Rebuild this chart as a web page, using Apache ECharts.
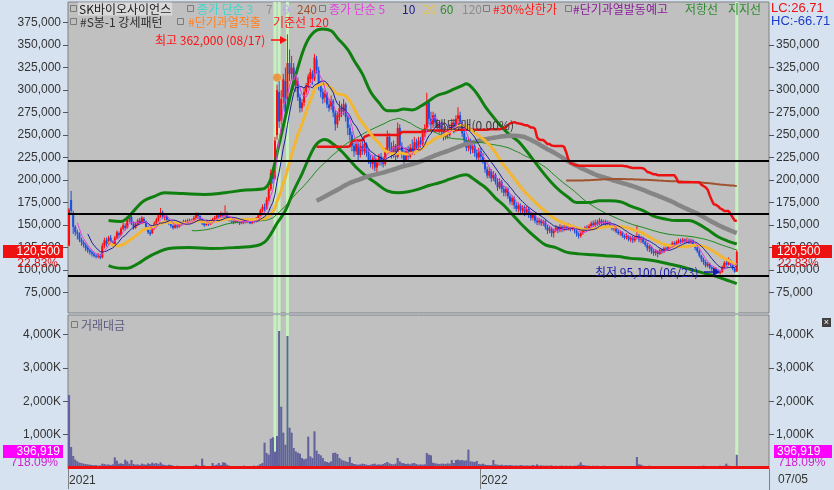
<!DOCTYPE html>
<html><head><meta charset="utf-8">
<script src="https://cdn.jsdelivr.net/npm/echarts@6/dist/echarts.min.js"></script>
<style>html,body{margin:0;padding:0;background:#d6e2f0;}#c{width:834px;height:490px;}</style>
</head><body><div id="c"></div>
<script>
// ---- data (prices in thousand KRW, trading value in K) ----
const opens = [
127,178,163,148,142,140,134,131,128,125,
122,120,118,116,115,116,114,127,133,129,
136,131,129,136,141,139,146,149,147,156,
159,152,147,151,155,152,157,154,148,142,
141,147,152,156,161,164,159,160,155,152,
149,147,150,148,152,151,154,152,155,153,
155,158,162,160,156,152,150,153,151,154,
156,158,161,159,162,160,163,158,156,155,
153,155,154,152,155,153,156,154,152,155,
154,157,161,166,170,168,178,190,206,202,
250,298,266,292,310,290,330,318,325,305,
310,292,280,286,298,305,312,318,312,334,
322,305,298,292,296,284,282,288,275,262,
270,280,276,284,270,258,250,238,232,240,
228,238,232,240,230,222,218,224,214,220,
226,220,218,232,248,236,228,238,226,258,
238,228,222,232,226,236,230,242,236,244,
240,252,258,286,268,262,272,264,258,262,
254,248,256,250,258,264,258,268,272,262,
252,244,236,242,234,238,230,225,232,226,
220,212,205,210,202,206,198,192,198,190,
186,190,182,176,180,172,168,172,166,170,
164,168,162,158,162,155,153,155,152,154,
148,144,146,141,144,147,144,148,145,148,
146,149,146,148,144,140,138,141,144,147,
145,149,152,150,153,151,155,152,154,151,
153,149,146,147,143,141,142,138,136,138,
134,136,133,136,138,134,136,131,128,124,
126,121,119,121,118,122,120,124,123,127,
126,130,128,131,133,131,134,132,133,131,
133,128,125,121,116,112,109,105,107,103,
101,102,99,97,98,103,108,106,111,106,
102,98.5];
const closes = [
167,166,148,142,140,134,131,128,124,122,
120,118,116,115,116,114,127,133,129,136,
131,129,136,142,139,146,150,147,156,160,
152,147,151,155,152,158,154,148,142,140,
147,152,156,161,164,159,160,155,152,149,
147,150,148,152,151,154,152,155,153,155,
158,162,160,156,152,150,153,151,154,156,
158,161,159,162,160,163,158,156,155,153,
155,154,152,155,153,156,154,152,155,154,
157,161,166,170,168,178,190,208,201,244,
300,265,290,312,276,330,318,325,305,312,
292,280,286,298,305,315,320,312,336,322,
305,298,290,296,284,280,288,275,262,272,
280,276,284,270,258,250,238,232,240,228,
238,232,240,230,222,218,224,214,220,226,
220,218,232,248,236,228,238,226,258,238,
228,222,232,226,236,230,242,236,244,240,
252,258,286,268,262,272,264,258,262,254,
248,256,250,258,264,258,268,272,262,252,
244,236,242,234,238,230,225,232,226,220,
212,205,210,202,206,198,192,198,190,186,
190,182,176,180,172,168,172,166,170,164,
168,162,158,162,155,153,155,152,154,148,
144,146,141,144,147,144,148,145,148,146,
149,146,148,144,140,138,141,144,147,145,
149,152,150,153,151,155,152,154,151,153,
149,146,147,143,141,142,138,136,138,134,
136,133,136,138,134,136,131,128,124,126,
121,119,121,118,122,120,124,123,127,126,
130,128,131,133,131,134,132,133,131,133,
128,125,121,116,112,109,105,107,103,101,
102,99,97,98,103,108,106,111,106,102,
98.1,120.5];
const lows = [
127,162,140,138,134,131,127,125,121,119,
117,115,114,113,113,112,113,124,126,128,
129,126,127,134,136,138,144,144,146,153,
150,145,146,149,150,151,152,146,140,138,
140,145,150,154,158,157,155,153,150,147,
145,146,146,147,149,150,150,151,151,152,
154,157,157,154,150,148,149,149,150,152,
154,156,157,158,158,158,156,154,152,151,
152,152,150,151,151,152,152,151,151,152,
153,156,160,164,165,167,176,188,196,200,
245,258,262,285,270,285,310,312,300,298,
288,275,276,282,295,302,308,306,310,318,
300,292,285,286,280,276,278,270,255,258,
266,270,272,265,250,244,232,226,228,222,
225,228,228,226,218,214,212,210,209,216,
216,214,216,230,232,224,225,222,224,234,
224,218,220,222,224,228,228,232,234,236,
238,248,256,262,256,258,258,254,252,250,
244,245,246,248,254,252,256,264,258,248,
240,232,232,229,230,226,222,222,222,218,
208,202,202,198,199,195,188,190,186,182,
182,179,173,172,168,165,164,163,162,160,
161,158,155,155,152,150,150,149,149,145,
140,141,137,136,142,141,142,142,143,144,
144,143,144,141,137,135,136,139,142,143,
144,147,148,148,149,150,150,150,149,150,
147,144,143,141,139,138,136,134,134,132,
131,130,131,134,131,130,129,126,121,120,
118,116,116,114,117,118,119,121,122,124,
125,126,127,129,129,130,130,130,129,129,
126,122,119,114,109,106,103,103,101,99,
98,97,96,95.1,97,102,104,105,104,100,
97,98];
const highs = [
169,188,166,150,145,142,136,133,130,127,
124,122,120,118,119,118,130,136,136,138,
139,133,138,144,143,148,153,152,159,163,
161,154,153,157,158,160,159,155,149,145,
149,154,158,163,169,166,163,161,157,154,
151,152,152,154,154,156,156,157,157,157,
160,164,164,161,157,154,155,155,156,158,
160,163,163,165,164,172,165,160,158,157,
157,157,156,157,157,158,158,156,157,157,
159,163,168,173,174,181,193,212,214,248,
306,310,300,318,325,362,345,338,330,320,
314,296,290,302,308,318,324,322,340,338,
326,310,302,300,298,290,294,290,278,276,
288,285,290,286,272,262,254,242,244,242,
242,244,245,242,234,228,228,228,224,229,
230,226,236,255,252,242,244,240,264,262,
242,234,236,238,240,245,248,246,248,248,
256,262,297,290,276,276,274,268,265,264,
258,260,259,262,268,268,272,281,276,265,
256,248,248,246,242,240,234,236,236,230,
222,215,214,212,210,208,202,202,200,194,
193,192,185,183,182,176,175,174,172,172,
171,170,165,164,163,158,158,157,156,156,
150,149,148,146,150,149,151,150,150,151,
152,151,150,149,146,142,143,146,149,150,
151,154,155,156,156,158,157,156,156,155,
154,151,149,148,145,144,143,140,141,139,
138,138,138,150,140,138,137,133,130,128,
127,123,123,122,124,124,126,126,129,129,
132,132,133,135,135,136,135,136,135,135,
134,129,127,123,117,114,111,109,108,105,
104,103,101,100,105,110,111,114,112,108,
103,122];
const tradeValue = [
2190,630,360,250,200,160,150,130,120,110,
100,90,80,90,70,80,130,120,100,110,
90,110,320,220,130,140,120,250,200,130,
240,120,100,110,90,130,110,100,140,120,
160,130,150,120,170,110,90,80,100,90,
70,60,70,60,50,60,50,60,50,60,
70,100,80,60,280,80,60,50,60,150,
80,100,150,90,170,160,100,70,60,60,
50,60,50,60,70,50,40,50,60,70,
60,80,120,150,760,450,400,880,920,490,
960,4110,1840,1060,700,3960,1210,1060,600,500,
460,430,300,260,280,940,350,300,1100,520,
420,380,300,200,180,160,200,450,460,420,
300,250,220,200,180,330,150,120,110,100,
110,130,120,100,90,100,120,130,100,110,
100,120,150,180,140,120,110,130,300,200,
150,140,120,130,110,140,150,120,100,110,
100,110,450,400,380,160,140,130,120,130,
130,120,140,130,240,150,240,250,230,240,
220,230,550,200,190,180,210,120,110,130,
100,90,90,90,240,110,100,90,100,80,
90,80,90,80,70,80,70,90,80,70,
80,70,70,90,70,110,70,80,70,70,
70,70,80,60,70,60,70,70,60,70,
60,70,60,70,70,100,170,90,80,70,
70,60,70,60,70,60,60,70,60,60,
60,60,50,60,50,60,50,60,50,60,
50,60,60,330,110,100,70,60,60,70,
60,60,50,60,50,60,50,60,50,60,
50,60,50,60,50,60,50,60,50,50,
50,60,50,60,60,70,60,60,50,60,
50,60,60,70,60,70,130,70,60,50,
50,396.919];
// resistance (upper) and support (lower) bands: [day index, price]
const resistanceLine = [[19,155],[25,154],[28,158],[32,168],[36,177],[41,182],[46,186],[55,185],[65,184],[75,186],[85,189],[93,190],[96,196],[98,210],[101,240],[104,270],[107,300],[110,325],[114,352],[118,365],[122,368],[126,366],[129,358],[134,345],[137,333],[141,318],[145,298],[149,286],[153,277],[157,277],[161,279],[165,278],[169,282],[173,288],[177,294],[181,297],[185,301],[189,305],[191,307],[194,302],[197,293],[200,282],[204,270],[208,259],[212,250],[216,243],[220,232],[224,220],[228,208],[232,197],[236,188],[240,181],[244,175],[250,175],[255,177],[260,177],[265,176],[270,171],[276,166],[281,160],[286,157],[292,155],[298,155],[302,152],[307,145],[312,137],[317,132],[321,129]];
const supportLine = [[19,105],[25,102],[28,102],[33,107],[37,113],[42,119],[48,124],[58,125],[68,124],[80,125],[90,127],[94,131],[97,140],[100,152],[104,166],[108,188],[112,207],[116,228],[119,240],[123,245],[127,240],[131,232],[135,222],[139,212],[143,204],[148,196],[153,188],[158,186],[163,187],[168,190],[173,194],[178,197],[183,201],[188,205],[191,206],[194,202],[197,197],[201,190],[205,180],[209,172],[213,162],[217,152],[221,143],[225,135],[229,128],[234,125],[239,120],[245,118],[252,117],[258,116],[264,115],[270,113],[276,112],[282,110],[288,107],[294,104],[300,100],[306,96],[311,93],[316,89],[321,85]];
const horizontalLevels = [221.3, 162.6, 93.6];
const overheatDays = [99, 101, 105, 321];
const overheatDot = [[100, 314]];
const priceTicks = [75,100,125,150,175,200,225,250,275,300,325,350,375];
const priceTicksRight = [75,100,125,150,175,200,225,250,275,300,325,350];
const valueTicks = [1000,2000,3000,4000];
const xTickLabels = [[0,'2021'],[198,'2022']];
const SLOTS = 337;

// ---- derived ----
const categories = new Array(SLOTS).fill('');
xTickLabels.forEach(([i,t]) => categories[i] = t);
function sma(n){ return closes.map((c,i)=> i<n-1 ? null : +(closes.slice(i-n+1,i+1).reduce((a,b)=>a+b,0)/n).toFixed(2)); }
function kijun(n){ return closes.map((c,i)=> i<n-1 ? null : (Math.max(...highs.slice(i-n+1,i+1))+Math.min(...lows.slice(i-n+1,i+1)))/2); }
const candles = opens.map((o,i)=>[i, o, closes[i], lows[i], highs[i]]);

const FONT = '"Noto Sans CJK KR", "Liberation Sans", sans-serif';
const NUMF = '"Liberation Sans", Arial, sans-serif';
const fmtPrice = v => (Math.round(v*1000)).toLocaleString('en-US');
const fmtVal = v => v.toLocaleString('en-US') + 'K';
const UP = '#ff0a0a', DOWN = '#1a4fe0';

function maLine(n, color, width){
  return {type:'line', xAxisIndex:0, yAxisIndex:0, data:sma(n), symbol:'none', z:3,
    lineStyle:{color, width}, silent:true};
}
function T(x,y,s,color,extra){
  return {type:'text', x, y, z:100, silent:true,
    style:Object.assign({text:s, fill:color, font:'12px '+FONT, textAlign:'left', align:'left', textVerticalAlign:'middle', verticalAlign:'middle'}, extra||{})};
}
function box(x,y){ return {type:'rect', z:100, silent:true, shape:{x, y, width:6, height:6}, style:{fill:'none', stroke:'#7a7a7a', lineWidth:1}}; }
function greenRender(params, api){
  const x = api.coord([api.value(0), api.value(1)])[0];
  const cs = params.coordSys;
  return {type:'rect', shape:{x:x-1.5, y:cs.y, width:3, height:cs.height}, style:{fill:'#c6f2bf'}};
}
function candleRender(params, api){
  const i = api.value(0), o = api.value(1), c = api.value(2), l = api.value(3), h = api.value(4);
  const pO = api.coord([i,o]), pC = api.coord([i,c]), pL = api.coord([i,l]), pH = api.coord([i,h]);
  const color = c >= o ? UP : DOWN;
  const xc = pO[0];
  const top = Math.min(pO[1], pC[1]);
  const bh = Math.max(1, Math.abs(pO[1]-pC[1]));
  return {type:'group', children:[
    {type:'line', shape:{x1:xc, y1:pH[1], x2:xc, y2:pL[1]}, style:{stroke:color, lineWidth:1}},
    {type:'rect', shape:{x:xc-1, y:top, width:2, height:bh}, style:{fill:color}}
  ]};
}

const chart = echarts.init(document.getElementById('c'));
const g = [];
// legend row 1
g.push(box(70.5,5.5));
g.push(T(78,9,'SK바이오사이언스','#202020',{backgroundColor:'#d9d9d9', padding:[1,1,0,1]}));
g.push(box(187.5,5.5));
g.push(T(197,9,'종가 단순 3','#3cd6cc'));
g.push(T(266,9,'7','#8c8c8c'));
g.push(T(283,9,'9','#b9a2f2'));
g.push(T(297,9,'240','#a0522d'));
g.push(box(319.5,5.5));
g.push(T(329,9,'종가 단순 5','#e040e0'));
g.push(T(402,9,'10','#1c1c90'));
g.push(T(423,9,'20','#e6c24a'));
g.push(T(440,9,'60','#2a8a2a'));
g.push(T(462,9,'120','#8c8c8c'));
g.push(box(483.5,5.5));
g.push(T(493,9,'#30%상한가','#ff1a1a'));
g.push(box(565.5,5.5));
g.push(T(573,9,'#단기과열발동예고','#8a1a9a'));
g.push(T(685,9,'저항선','#2a8a2a'));
g.push(T(728,9,'지지선','#2a8a2a'));
// legend row 2
g.push(box(70.5,18.5));
g.push(T(80,22,'#S봉-1 강세패턴','#303030'));
g.push(box(177.5,18.5));
g.push(T(188,22,'#단기과열적출','#ff8020'));
g.push(T(273,22,'기준선 120','#ff1a1a'));
// right top LC / HC
g.push(T(771,8,'LC:26.71','#ee1111',{font:'13px '+NUMF}));
g.push(T(771,21,'HC:-66.71','#1e3cc8',{font:'13px '+NUMF}));
// high / low annotations
g.push(T(155,40,'최고 362,000 (08/17)','#ff1010'));
g.push({type:'polyline', z:100, silent:true, shape:{points:[[271,40],[282,40]]}, style:{stroke:'#ff1010', lineWidth:1.5}});
g.push({type:'polygon', z:100, silent:true, shape:{points:[[280,36],[287,40],[280,44]]}, style:{fill:'#ff1010'}});
g.push(T(595,272,'최저 95,100 (06/23)','#1a1aa8'));
g.push({type:'polyline', z:100, silent:true, shape:{points:[[704,272],[715,272]]}, style:{stroke:'#1a1aa8', lineWidth:1.5}});
g.push({type:'polygon', z:100, silent:true, shape:{points:[[713,268],[720,272],[713,276]]}, style:{fill:'#1a1aa8'}});
g.push(T(435,125,'매도:매(0.00%)','#3a3a3a'));
// current price boxes
g.push({type:'rect', z:100, silent:true, shape:{x:3,y:245,width:60,height:13}, style:{fill:'#ee1111'}});
g.push(T(60,251.5,'120,500','#ffffff',{font:'12px '+NUMF, textAlign:'right', align:'right'}));
g.push(T(58,264,'22.83%','#e01010',{font:'12px '+NUMF, textAlign:'right', align:'right'}));
g.push({type:'rect', z:100, silent:true, shape:{x:772,y:245,width:60,height:13}, style:{fill:'#ee1111'}});
g.push(T(777,251.5,'120,500','#ffffff',{font:'12px '+NUMF}));
g.push(T(778,264,'22.83%','#e01010',{font:'12px '+NUMF}));
g.push({type:'rect', z:100, silent:true, shape:{x:3,y:445,width:60,height:13}, style:{fill:'#ff00ff'}});
g.push(T(60,451.5,'396,919','#ffffff',{font:'12px '+NUMF, textAlign:'right', align:'right'}));
g.push(T(58,463,'718.09%','#d020d0',{font:'12px '+NUMF, textAlign:'right', align:'right'}));
g.push({type:'rect', z:100, silent:true, shape:{x:774,y:445,width:58,height:13}, style:{fill:'#ff00ff'}});
g.push(T(777,451.5,'396,919','#ffffff',{font:'12px '+NUMF}));
g.push(T(778,463,'718.09%','#d020d0',{font:'12px '+NUMF}));
// volume title and close icon
g.push(box(71.5,321.5));
g.push(T(81,325,'거래대금','#5a5a80'));
g.push({type:'rect', z:100, silent:true, shape:{x:822,y:318,width:9,height:9}, style:{fill:'#404040'}});
g.push(T(826.5,322.5,'×','#ffffff',{font:'9px '+NUMF, textAlign:'center', align:'center'}));
// bottom band
g.push({type:'line', z:100, silent:true, shape:{x1:769.5,y1:469,x2:769.5,y2:490}, style:{stroke:'#808080'}});
g.push(T(778,480,'07/05','#333333',{font:'12px '+NUMF}));

chart.setOption({
  animation:false,
  backgroundColor:'#d6e2f0',
  grid:[
    {left:68, top:2, width:701, height:311, show:true, backgroundColor:'#c0c0c0', borderColor:'#808080', borderWidth:1},
    {left:68, top:315, width:701, height:153, show:true, backgroundColor:'#c0c0c0', borderColor:'#808080', borderWidth:1}
  ],
  xAxis:[
    {type:'category', gridIndex:0, data:categories, boundaryGap:true, axisLine:{show:false}, axisTick:{show:false}, axisLabel:{show:false}, splitLine:{show:false}},
    {type:'category', gridIndex:1, data:categories, boundaryGap:true,
      axisLine:{show:true, lineStyle:{color:'#808080'}},
      axisTick:{show:true, interval:(i)=>categories[i]!=='', length:21, lineStyle:{color:'#808080'}},
      axisLabel:{show:true, interval:0, align:'left', margin:7, color:'#333', fontSize:12, fontFamily:NUMF, formatter:(v)=>v},
      splitLine:{show:false}}
  ],
  yAxis:[
    {type:'value', gridIndex:0, position:'left', min:52.3, max:397.9, splitLine:{show:false},
      axisLine:{show:false}, axisTick:{show:true, length:5, customValues:priceTicks, lineStyle:{color:'#555'}},
      axisLabel:{customValues:priceTicks, formatter:fmtPrice, color:'#333', fontSize:12, fontFamily:NUMF, margin:7}},
    {type:'value', gridIndex:0, position:'right', min:52.3, max:397.9, splitLine:{show:false},
      axisLine:{show:false}, axisTick:{show:true, length:5, customValues:priceTicksRight, lineStyle:{color:'#555'}},
      axisLabel:{customValues:priceTicksRight, formatter:fmtPrice, color:'#333', fontSize:12, fontFamily:NUMF, margin:7}},
    {type:'value', gridIndex:1, position:'left', min:0, max:4590, splitLine:{show:false},
      axisLine:{show:false}, axisTick:{show:true, length:5, customValues:valueTicks, lineStyle:{color:'#555'}},
      axisLabel:{customValues:valueTicks, formatter:fmtVal, color:'#333', fontSize:12, fontFamily:NUMF, margin:7}},
    {type:'value', gridIndex:1, position:'right', min:0, max:4590, splitLine:{show:false},
      axisLine:{show:false}, axisTick:{show:true, length:5, customValues:valueTicks, lineStyle:{color:'#555'}},
      axisLabel:{customValues:valueTicks, formatter:fmtVal, color:'#333', fontSize:12, fontFamily:NUMF, margin:7}}
  ],
  series:[
    {type:'custom', xAxisIndex:0, yAxisIndex:0, data:overheatDays.map(d=>[d,100]), renderItem:greenRender, z:1, silent:true},
    {type:'custom', xAxisIndex:1, yAxisIndex:2, data:overheatDays.map(d=>[d,100]), renderItem:greenRender, z:1, silent:true},
    {type:'custom', xAxisIndex:0, yAxisIndex:0, data:candles, renderItem:candleRender, encode:{x:0, y:[1,2,3,4]}, z:2, silent:true},
    {type:'line', xAxisIndex:0, yAxisIndex:0, data:resistanceLine, symbol:'none', smooth:0.4, z:3, silent:true, lineStyle:{color:'#0f7f0f', width:3}},
    {type:'line', xAxisIndex:0, yAxisIndex:0, data:supportLine, symbol:'none', smooth:0.4, z:3, silent:true, lineStyle:{color:'#0f7f0f', width:3}},
    maLine(120,'#858585',4.5),
    maLine(240,'#a0522d',2),
    {type:'line', xAxisIndex:0, yAxisIndex:0, data:kijun(120), symbol:'none', z:3, silent:true, lineStyle:{color:'#ee1111', width:2.5}},
    maLine(60,'#1a8a1a',1),
    maLine(20,'#f2b632',3),
    maLine(10,'#1c1c9a',1),
    maLine(5,'#e040e0',1),
    {type:'line', xAxisIndex:0, yAxisIndex:0, data:[], z:5, silent:true,
      markLine:{symbol:'none', silent:true, label:{show:false}, animation:false, lineStyle:{color:'#000', width:2, type:'solid'},
        data: horizontalLevels.map(v=>({yAxis:v}))}},
    {type:'scatter', xAxisIndex:0, yAxisIndex:0, data:overheatDot, symbol:'circle', symbolSize:8, z:6, silent:true, itemStyle:{color:'#f5841f'}},
    {type:'bar', xAxisIndex:1, yAxisIndex:2, data:tradeValue, barCategoryGap:'0%', z:2, silent:true, itemStyle:{color:'#62629c'}},
    {type:'line', xAxisIndex:1, yAxisIndex:2, data:[], z:3, silent:true,
      markLine:{symbol:'none', silent:true, label:{show:false}, animation:false, lineStyle:{color:'#ee1111', width:3, type:'solid'}, data:[{yAxis:28}]}}
  ],
  graphic:g
});
</script></body></html>
